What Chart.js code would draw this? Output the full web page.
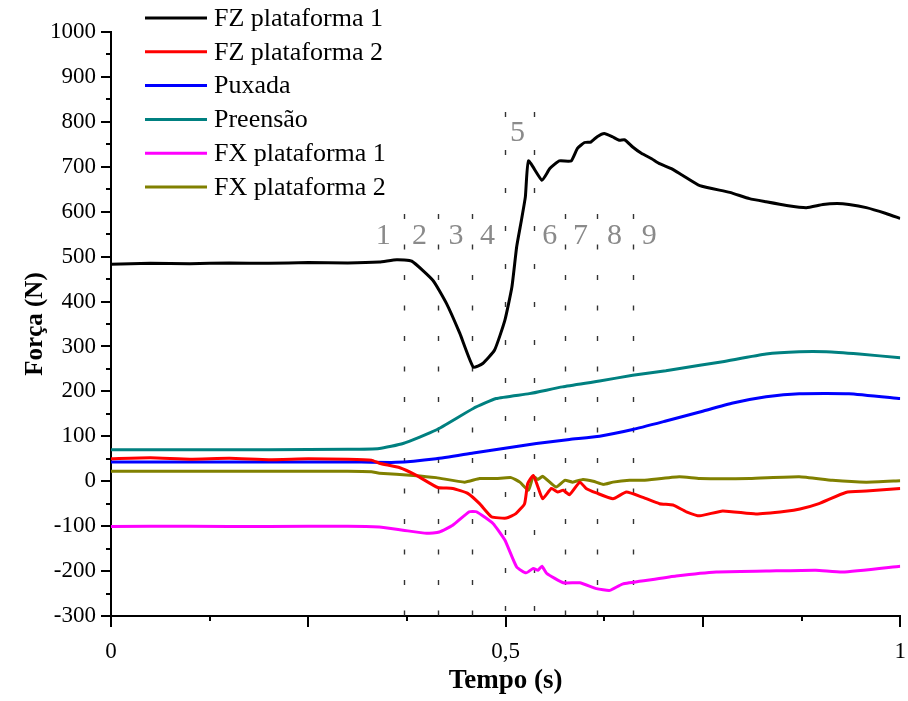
<!DOCTYPE html>
<html>
<head>
<meta charset="utf-8">
<script src="https://cdn.jsdelivr.net/npm/chart.js@4"></script>
<style>
html,body{margin:0;padding:0;background:#fff;}
#wrap{width:908px;height:701px;}
</style>
</head>
<body>
<div id="wrap"><canvas id="c" width="908" height="701"></canvas></div>
<script>
// ---- DATA ----
const seriesLabels = ['FZ plataforma 1','FZ plataforma 2','Puxada','Preensão','FX plataforma 1','FX plataforma 2'];

const fz1T = [0,0.05,0.1,0.15,0.2,0.25,0.3,0.34,0.362,0.381,0.408,0.425,0.442,0.459,0.471,0.486,0.499,0.508,0.514,0.520,0.525,0.529,0.546,0.556,0.568,0.583,0.591,0.600,0.608,0.616,0.625,0.635,0.644,0.651,0.661,0.672,0.685,0.695,0.710,0.724,0.746,0.784,0.809,0.830,0.856,0.881,0.902,0.920,0.935,0.957,0.982,1.0];
const fz1V = [483,485,484,486,485,487,486,488,493,490,447,396,329,254,262,292,358,433,522,581,633,713,670,696,713,713,741,754,755,767,774,767,759,760,744,730,718,707,696,681,658,643,629,622,614,609,616,618,616,609,596,585];

const fz2T = [0,0.05,0.1,0.15,0.2,0.25,0.3,0.33,0.340,0.366,0.387,0.414,0.433,0.452,0.467,0.482,0.501,0.513,0.524,0.528,0.535,0.541,0.547,0.558,0.566,0.573,0.581,0.594,0.602,0.615,0.636,0.653,0.674,0.695,0.712,0.729,0.746,0.775,0.817,0.855,0.873,0.897,0.931,0.957,1.0];
const fz2V = [50,52,49,51,48,50,49,47,40,30,13,-14,-16,-27,-50,-79,-82,-72,-50,-5,13,-13,-39,-16,-24,-20,-30,-2,-16,-26,-39,-24,-36,-50,-53,-68,-77,-66,-73,-67,-62,-50,-25,-22,-16];

const puxT = [0,0.1,0.2,0.3,0.361,0.412,0.459,0.497,0.539,0.581,0.619,0.661,0.703,0.746,0.788,0.830,0.872,0.935,1.0];
const puxV = [43,43,43,43,42,50,63,73,84,93,100,115,134,154,174,188,195,195,184];

const preT = [0,0.1,0.2,0.3,0.34,0.370,0.412,0.459,0.488,0.530,0.572,0.619,0.661,0.703,0.746,0.775,0.830,0.872,0.906,0.948,1.0];
const preV = [70,70,70,71,73,84,114,162,184,195,210,223,236,246,258,266,283,288,288,283,275];

const fx1T = [0,0.1,0.2,0.3,0.34,0.370,0.400,0.416,0.433,0.454,0.463,0.484,0.499,0.514,0.526,0.535,0.541,0.546,0.552,0.573,0.594,0.615,0.632,0.648,0.682,0.716,0.767,0.830,0.893,0.927,1.0];
const fx1V = [-101,-100,-101,-100,-102,-109,-116,-113,-98,-68,-68,-94,-131,-191,-204,-194,-198,-189,-205,-226,-226,-239,-243,-229,-220,-211,-202,-200,-198,-202,-189];

const fx2T = [0,0.1,0.2,0.3,0.33,0.340,0.383,0.412,0.448,0.467,0.488,0.507,0.518,0.529,0.535,0.541,0.547,0.564,0.575,0.585,0.598,0.611,0.624,0.636,0.657,0.674,0.720,0.746,0.809,0.872,0.914,0.957,1.0];
const fx2V = [22,22,22,22,21,18,13,8,-2,6,6,8,-2,-20,11,4,11,-13,2,-2,4,0,-7,-2,2,2,10,6,6,10,2,-2,1];

// phase markers
const phaseBoundT = [0.371,0.414,0.457,0.499,0.536,0.575,0.616,0.662];
const phaseLabelT = [0.345,0.391,0.437,0.477,0.515,0.556,0.595,0.638,0.682];
const phaseLabels = ['1','2','3','4','5','6','7','8','9'];

// axes
const xTickValues = [0,0.5,1];
const xTickLabels = ['0','0,5','1'];
const xTitle = 'Tempo (s)';
const yTitle = 'Força (N)';

// ---- STYLE ----
const colors = ['#000000','#ff0000','#0000ff','#008080','#ff00ff','#808000'];
const SERIF = '"Liberation Serif","Times New Roman",serif';

const pairs = [[fz1T,fz1V],[fz2T,fz2V],[puxT,puxV],[preT,preV],[fx1T,fx1V],[fx2T,fx2V]];
const datasets = pairs.map((p,i)=>({
  label: seriesLabels[i],
  data: p[0].map((t,k)=>({x:t,y:p[1][k]})),
  borderColor: colors[i],
  backgroundColor: colors[i],
  borderWidth: 3,
  pointRadius: 0,
  tension: 0.15,
  fill: false
}));

const decor = {
  id: 'decor',
  beforeDatasetsDraw(chart){
    const ctx = chart.ctx, xs = chart.scales.x, ca = chart.chartArea;
    ctx.save();
    ctx.strokeStyle = '#333';
    ctx.lineWidth = 1.4;
    phaseBoundT.forEach((t,i)=>{
      const px = Math.round(xs.getPixelForValue(t)) + 0.5;
      const tall = (i===3 || i===4);
      const top = tall ? 112 : 214;
      ctx.setLineDash(tall ? [5,33] : [5,25.5]);
      ctx.beginPath();
      ctx.moveTo(px, top);
      ctx.lineTo(px, ca.bottom);
      ctx.stroke();
    });
    ctx.setLineDash([]);
    ctx.fillStyle = '#8a8a8a';
    ctx.font = '30px ' + SERIF;
    ctx.textAlign = 'center';
    ctx.textBaseline = 'middle';
    phaseLabelT.forEach((t,i)=>{
      const px = xs.getPixelForValue(t);
      const py = phaseLabels[i]==='5' ? 133 : 236;
      ctx.fillText(phaseLabels[i], px, py);
    });
    ctx.restore();
  },
  afterDraw(chart){
    const ctx = chart.ctx, xs = chart.scales.x, ys = chart.scales.y, ca = chart.chartArea;
    ctx.save();
    ctx.strokeStyle = '#000';
    ctx.lineWidth = 2;
    for (let v = ys.min; v <= ys.max; v += 50) {
      const py = Math.round(ys.getPixelForValue(v));
      const len = (v % 100 === 0) ? 10 : 5;
      ctx.beginPath();
      ctx.moveTo(ca.left, py);
      ctx.lineTo(ca.left - len, py);
      ctx.stroke();
    }
    for (let k = 0; k <= 8; k++) {
      const t = k * 0.125;
      const px = Math.round(xs.getPixelForValue(t));
      const len = (k % 2 === 0) ? 11 : 5;
      ctx.beginPath();
      ctx.moveTo(px, ca.bottom);
      ctx.lineTo(px, ca.bottom + len);
      ctx.stroke();
    }
    // legend
    ctx.font = '26px ' + SERIF;
    ctx.textAlign = 'left';
    ctx.textBaseline = 'middle';
    chart.data.datasets.forEach((ds,i)=>{
      const y = 18 + i * 33.8;
      ctx.strokeStyle = ds.borderColor;
      ctx.lineWidth = 3;
      ctx.beginPath();
      ctx.moveTo(145, y);
      ctx.lineTo(207, y);
      ctx.stroke();
      ctx.fillStyle = '#000';
      ctx.fillText(ds.label, 214, y + 1);
    });
    ctx.restore();
  }
};

new Chart(document.getElementById('c'), {
  type: 'line',
  data: { datasets },
  options: {
    responsive: false,
    devicePixelRatio: 1,
    animation: false,
    layout: { padding: { top: 32, right: 6, left: 0, bottom: 0 } },
    plugins: { legend: { display: false }, tooltip: { enabled: false } },
    scales: {
      x: {
        type: 'linear', min: 0, max: 1,
        afterBuildTicks: s => { s.ticks = xTickValues.map(v => ({ value: v })); },
        afterFit: s => { s.height = 85; },
        grid: { display: false, drawTicks: true, tickLength: 20 },
        border: { display: true, color: '#000', width: 2 },
        ticks: {
          padding: 2, color: '#000', maxRotation: 0, autoSkip: false,
          font: { family: SERIF, size: 23 },
          callback: (v) => { const i = xTickValues.indexOf(v); return i >= 0 ? xTickLabels[i] : ''; }
        },
        title: { display: true, text: xTitle, color: '#000', font: { family: SERIF, size: 27, weight: 'bold' }, padding: { top: 0, bottom: 4 } }
      },
      y: {
        type: 'linear', min: -300, max: 1000,
        afterFit: s => { s.width = 111; },
        grid: { display: false, drawTicks: false },
        border: { display: true, color: '#000', width: 2 },
        ticks: {
          stepSize: 100, padding: 15, color: '#000',
          font: { family: SERIF, size: 23 },
          callback: (v) => String(v)
        },
        title: { display: true, text: yTitle, color: '#000', font: { family: SERIF, size: 25, weight: 'bold' }, padding: { top: 21, bottom: 0 } }
      }
    }
  },
  plugins: [decor]
});
</script>
</body>
</html>
